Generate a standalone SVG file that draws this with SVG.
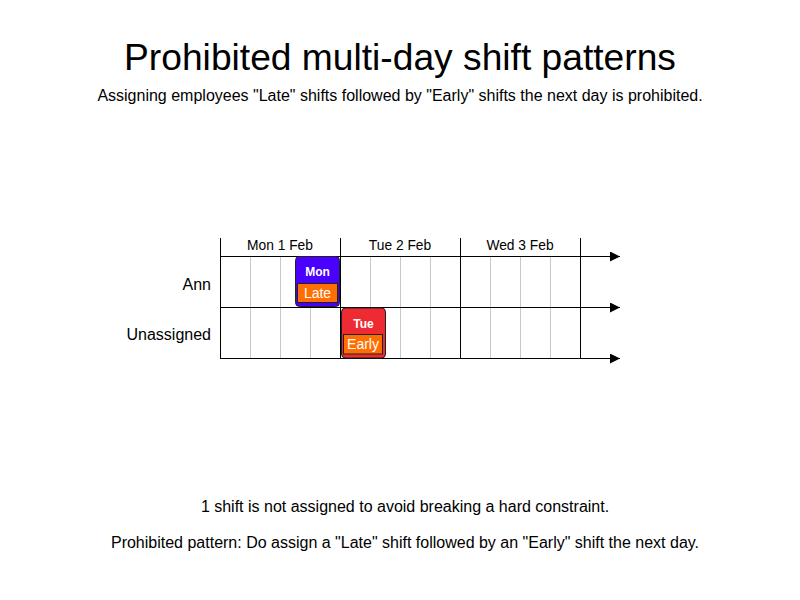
<svg xmlns="http://www.w3.org/2000/svg" width="800" height="600" viewBox="0 0 800 600">
<style>
text{font-family:"Liberation Sans",Arial,sans-serif;fill:#000}
.sub{stroke:#c8c8c8;stroke-width:1}
.main{stroke:#000;stroke-width:1}
.shift{stroke:#222;stroke-width:1}
.lbl{fill:#fff;font-size:12px;font-weight:bold;text-anchor:middle}
.name{fill:#fff;font-size:14px;text-anchor:middle}
.day{font-size:13.8px;text-anchor:middle}
</style>
<defs>
<marker id="arr" markerWidth="10" markerHeight="10" refX="10" refY="5" orient="auto" markerUnits="userSpaceOnUse">
<path d="M0,0 L10,5 L0,10 Z" fill="#000"/>
</marker>
</defs>
<rect width="800" height="600" fill="#fff"/>
<text x="400" y="70" font-size="37.2" text-anchor="middle">Prohibited multi-day shift patterns</text>
<text x="400" y="101" font-size="16" text-anchor="middle">Assigning employees "Late" shifts followed by "Early" shifts the next day is prohibited.</text>

<g id="grid">
<g class="sub">
<line x1="250.5" y1="256" x2="250.5" y2="358"/>
<line x1="280.5" y1="256" x2="280.5" y2="358"/>
<line x1="310.5" y1="256" x2="310.5" y2="358"/>
<line x1="370.5" y1="256" x2="370.5" y2="358"/>
<line x1="400.5" y1="256" x2="400.5" y2="358"/>
<line x1="430.5" y1="256" x2="430.5" y2="358"/>
<line x1="490.5" y1="256" x2="490.5" y2="358"/>
<line x1="520.5" y1="256" x2="520.5" y2="358"/>
<line x1="550.5" y1="256" x2="550.5" y2="358"/>
</g>
<g class="main">
<line x1="220.5" y1="238" x2="220.5" y2="358"/>
<line x1="340.5" y1="238" x2="340.5" y2="358"/>
<line x1="460.5" y1="238" x2="460.5" y2="358"/>
<line x1="580.5" y1="238" x2="580.5" y2="358"/>
</g>
<text x="280" y="250" class="day">Mon 1 Feb</text>
<text x="400" y="250" class="day">Tue 2 Feb</text>
<text x="520" y="250" class="day">Wed 3 Feb</text>
</g>

<g id="connectors" class="main">
<line x1="220" y1="256.5" x2="620" y2="256.5" marker-end="url(#arr)"/>
<line x1="220" y1="307.5" x2="620" y2="307.5" marker-end="url(#arr)"/>
<line x1="220" y1="358.5" x2="620" y2="358.5" marker-end="url(#arr)"/>
</g>

<g id="row-ann">
<text x="211" y="290" font-size="16" text-anchor="end">Ann</text>
</g>
<g id="row-unassigned">
<text x="211" y="340" font-size="16" text-anchor="end">Unassigned</text>
</g>

<g id="shift-mon">
<rect x="295.5" y="256.5" width="44" height="50" rx="4" fill="#4a00ff" class="shift"/>
<rect x="297.5" y="283.5" width="40" height="19" fill="#ff6e00" class="shift"/>
<text x="317.5" y="276" class="lbl">Mon</text>
<text x="317.5" y="297.5" class="name">Late</text>
</g>

<g id="shift-tue">
<rect x="341.5" y="308" width="44" height="50" rx="4" fill="#ee2a33" class="shift"/>
<rect x="343.5" y="334.5" width="39" height="19.5" fill="#ff6e00" class="shift"/>
<text x="363.5" y="327.5" class="lbl">Tue</text>
<text x="363" y="349" class="name">Early</text>
</g>

<text x="405" y="512" font-size="16" text-anchor="middle">1 shift is not assigned to avoid breaking a hard constraint.</text>
<text x="405" y="548" font-size="16" text-anchor="middle">Prohibited pattern: Do assign a "Late" shift followed by an "Early" shift the next day.</text>
</svg>
